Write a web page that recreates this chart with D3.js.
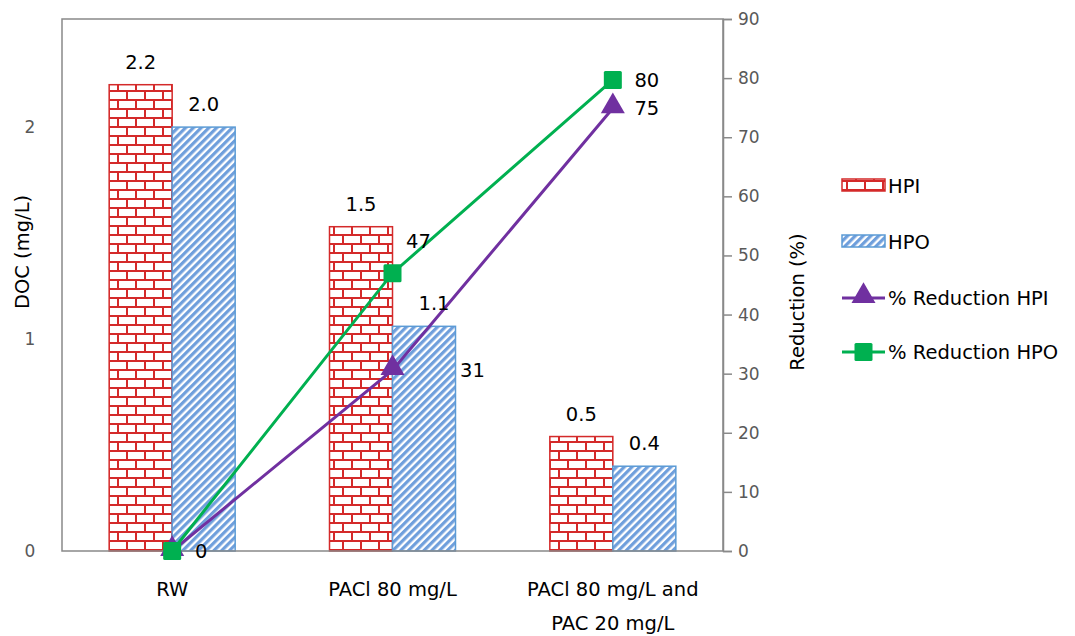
<!DOCTYPE html>
<meta charset="utf-8">
<script src="https://cdn.jsdelivr.net/npm/d3@7"></script>
<style>
body { margin: 0; background: #fff; }
text { font-family: "DejaVu Sans", sans-serif; fill: #000; }
.tick-label { font-size: 17px; fill: #595959; }
.data-label { font-size: 19.5px; }
.cat-label { font-size: 19.5px; }
.axis-title { font-size: 19.5px; }
.legend text { font-size: 19.5px; }
</style>
<body>
<script>

// data
var categories = ["RW", "PACl 80 mg/L", "PACl 80 mg/L and PAC 20 mg/L"];
var categoryLines = [["RW"], ["PACl 80 mg/L"], ["PACl 80 mg/L and", "PAC 20 mg/L"]];
var hpi = [2.2, 1.53, 0.54];
var hpo = [2.0, 1.06, 0.40];
var redHPI = [0, 30.6, 74.9];
var redHPO = [0, 47.0, 79.7];
var leftTicks = [0, 1, 2];
var rightTicks = [0, 10, 20, 30, 40, 50, 60, 70, 80, 90];

var width = 1075,
    height = 636;
var pLeft = 62, pRight = 723, pTop = 19, pBottom = 551;

var svg = d3.select("body").append("svg")
    .attr("width", width)
    .attr("height", height);

var defs = svg.append("defs");

// brick pattern for HPI
var brick = defs.append("pattern")
    .attr("id", "brick")
    .attr("patternUnits", "userSpaceOnUse")
    .attr("width", 18)
    .attr("height", 18);
brick.append("rect").attr("width", 18).attr("height", 18).attr("fill", "#fff");
brick.append("path")
    .attr("d", "M0,1H18M0,10H18M1,1V10M10,10V18")
    .attr("stroke", "#d42a2a")
    .attr("stroke-width", 2)
    .attr("fill", "none");

// diagonal stripes for HPO
var stripe = defs.append("pattern")
    .attr("id", "stripe")
    .attr("patternUnits", "userSpaceOnUse")
    .attr("width", 5.5)
    .attr("height", 5.5)
    .attr("patternTransform", "rotate(45)");
stripe.append("rect").attr("width", 5.5).attr("height", 5.5).attr("fill", "#fff");
stripe.append("rect").attr("width", 3.2).attr("height", 5.5).attr("fill", "#6f9fdc");

var x = d3.scaleBand().domain(categories).range([pLeft, pRight]);
var half = 63;
var xb = d3.scaleBand().domain(["HPI", "HPO"])
    .range([x.bandwidth() / 2 - half, x.bandwidth() / 2 + half]);
var y = d3.scaleLinear().domain([0, 2.51]).range([pBottom, pTop]);
var y2 = d3.scaleLinear().domain([0, 90]).range([pBottom, pTop]);

// bars
var g = svg.append("g");
g.selectAll(".hpi").data(hpi).enter().append("rect")
    .attr("x", function(d, i) { return x(categories[i]) + xb("HPI"); })
    .attr("y", function(d) { return y(d); })
    .attr("width", xb.bandwidth())
    .attr("height", function(d) { return pBottom - y(d); })
    .attr("fill", "url(#brick)")
    .attr("stroke", "#d42a2a")
    .attr("stroke-width", 1.5);

g.selectAll(".hpo").data(hpo).enter().append("rect")
    .attr("x", function(d, i) { return x(categories[i]) + xb("HPO"); })
    .attr("y", function(d) { return y(d); })
    .attr("width", xb.bandwidth())
    .attr("height", function(d) { return pBottom - y(d); })
    .attr("fill", "url(#stripe)")
    .attr("stroke", "#5b9bd5")
    .attr("stroke-width", 1.5);

// frame
svg.append("rect")
    .attr("x", pLeft).attr("y", pTop)
    .attr("width", pRight - pLeft).attr("height", pBottom - pTop)
    .attr("fill", "none").attr("stroke", "#898989").attr("stroke-width", 1.5);

// right axis
var axisR = svg.append("g").attr("transform", "translate(" + pRight + ",0)")
    .call(d3.axisRight(y2).tickValues(rightTicks).tickSize(9).tickPadding(6));
axisR.attr("font-family", null).attr("font-size", null);
axisR.select(".domain").attr("stroke", "#898989").attr("stroke-width", 1.5);
axisR.selectAll(".tick line").attr("stroke", "#898989").attr("stroke-width", 1.5);
axisR.selectAll(".tick text").attr("class", "tick-label").attr("fill", null);

// left tick labels
svg.selectAll(".lt").data(leftTicks).enter().append("text")
    .attr("class", "tick-label")
    .attr("x", 30)
    .attr("y", function(d) { return y(d); })
    .attr("dy", "0.35em")
    .attr("text-anchor", "middle")
    .text(function(d) { return d; });

// category labels
categoryLines.forEach(function(lines, i) {
  var cx = x(categories[i]) + x.bandwidth() / 2;
  lines.forEach(function(l, j) {
    svg.append("text").attr("class", "cat-label")
        .attr("x", cx).attr("y", 596 + j * 34)
        .attr("text-anchor", "middle")
        .text(l);
  });
});

// axis titles
svg.append("text").attr("class", "axis-title")
    .attr("transform", "translate(29,252) rotate(-90)")
    .attr("text-anchor", "middle").text("DOC (mg/L)");
svg.append("text").attr("class", "axis-title")
    .attr("transform", "translate(804,302) rotate(-90)")
    .attr("text-anchor", "middle").text("Reduction (%)");

// lines
var cxs = categories.map(function(c) { return x(c) + x.bandwidth() / 2; });
var line = d3.line()
    .x(function(d, i) { return cxs[i]; })
    .y(function(d) { return y2(d); });

svg.append("path").datum(redHPI)
    .attr("d", line).attr("fill", "none")
    .attr("stroke", "#7030a0").attr("stroke-width", 3);
svg.append("path").datum(redHPO)
    .attr("d", line).attr("fill", "none")
    .attr("stroke", "#00b050").attr("stroke-width", 3);

var tri = d3.symbol().type(d3.symbolTriangle).size(250);
svg.selectAll(".tri").data(redHPI).enter().append("path")
    .attr("d", tri)
    .attr("transform", function(d, i) { return "translate(" + cxs[i] + "," + (y2(d) - 2) + ")"; })
    .attr("fill", "#7030a0");
svg.selectAll(".sq").data(redHPO).enter().append("rect")
    .attr("x", function(d, i) { return cxs[i] - 9; })
    .attr("y", function(d) { return y2(d) - 9; })
    .attr("width", 18).attr("height", 18).attr("rx", 1.5)
    .attr("fill", "#00b050");

// bar labels
svg.selectAll(".lhpi").data(hpi).enter().append("text")
    .attr("class", "data-label")
    .attr("x", function(d, i) { return x(categories[i]) + xb("HPI") + xb.bandwidth() / 2; })
    .attr("y", function(d) { return y(d) - 16; })
    .attr("text-anchor", "middle")
    .text(function(d) { return d.toFixed(1); });
svg.selectAll(".lhpo").data(hpo).enter().append("text")
    .attr("class", "data-label")
    .attr("x", function(d, i) { return x(categories[i]) + xb("HPO") + xb.bandwidth() / 2 + (i == 1 ? 10 : 0); })
    .attr("y", function(d) { return y(d) - 16; })
    .attr("text-anchor", "middle")
    .text(function(d) { return d.toFixed(1); });

// line labels
var hpiOff = [[0, 0], [80, 0], [34, 0]];
var hpoOff = [[29, 0], [26, -32], [34, 0]];
svg.selectAll(".lr1").data(redHPI).enter().append("text")
    .filter(function(d, i) { return i > 0; })
    .attr("class", "data-label")
    .attr("x", function(d, i) { return cxs[i + 1] + hpiOff[i + 1][0]; })
    .attr("y", function(d, i) { return y2(d) + hpiOff[i + 1][1]; })
    .attr("dy", "0.35em")
    .attr("text-anchor", "middle")
    .text(function(d) { return Math.round(d); });
svg.selectAll(".lr2").data(redHPO).enter().append("text")
    .attr("class", "data-label")
    .attr("x", function(d, i) { return cxs[i] + hpoOff[i][0]; })
    .attr("y", function(d, i) { return y2(d) + hpoOff[i][1]; })
    .attr("dy", "0.35em")
    .attr("text-anchor", "middle")
    .text(function(d) { return Math.round(d); });

// legend
var legend = svg.append("g").attr("class", "legend");
legend.append("rect").attr("x", 842).attr("y", 179).attr("width", 43).attr("height", 12)
    .attr("fill", "url(#brick)").attr("stroke", "#d42a2a").attr("stroke-width", 1.5);
legend.append("text").attr("x", 888).attr("y", 186).attr("dy", "0.35em").text("HPI");
legend.append("rect").attr("x", 842).attr("y", 235).attr("width", 43).attr("height", 12)
    .attr("fill", "url(#stripe)").attr("stroke", "#5b9bd5").attr("stroke-width", 1.5);
legend.append("text").attr("x", 888).attr("y", 242).attr("dy", "0.35em").text("HPO");

legend.append("line").attr("x1", 842).attr("x2", 885).attr("y1", 298).attr("y2", 298)
    .attr("stroke", "#7030a0").attr("stroke-width", 3);
legend.append("path").attr("d", tri).attr("transform", "translate(863.5,296)").attr("fill", "#7030a0");
legend.append("text").attr("x", 888).attr("y", 298).attr("dy", "0.35em").text("% Reduction HPI");

legend.append("line").attr("x1", 842).attr("x2", 885).attr("y1", 352).attr("y2", 352)
    .attr("stroke", "#00b050").attr("stroke-width", 3);
legend.append("rect").attr("x", 854.5).attr("y", 343).attr("width", 18).attr("height", 18).attr("rx", 1.5)
    .attr("fill", "#00b050");
legend.append("text").attr("x", 888).attr("y", 352).attr("dy", "0.35em").text("% Reduction HPO");

</script>
</body>
